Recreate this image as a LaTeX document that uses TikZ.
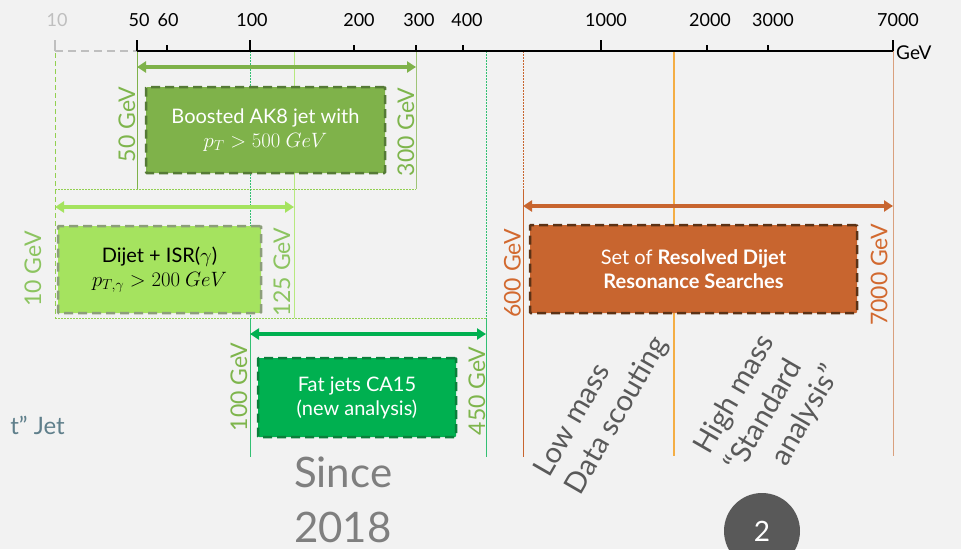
\documentclass[tikz,border=0pt]{standalone}
\usepackage{fontspec}
\setmainfont{Lato}
\usetikzlibrary{arrows.meta}

\definecolor{bg}{HTML}{F2F2F2}
\definecolor{boostG}{HTML}{7FB24A}
\definecolor{boostEdge}{HTML}{557A36}
\definecolor{dijG}{HTML}{A5E35F}
\definecolor{dijEdge}{HTML}{8C9E7A}
\definecolor{dijLine}{HTML}{92D050}
\definecolor{fatG}{HTML}{00B050}
\definecolor{fatEdge}{HTML}{0B7F3B}
\definecolor{orng}{HTML}{C8652F}
\definecolor{orngEdge}{HTML}{5B3216}
\definecolor{orngLab}{HTML}{D2692F}
\definecolor{yel}{HTML}{F4AE45}
\definecolor{salmon}{HTML}{D9A07E}
\definecolor{labG}{HTML}{7EB54C}
\definecolor{labLG}{HTML}{8CC460}
\definecolor{axisGray}{HTML}{BFBFBF}
\definecolor{noteGray}{HTML}{595959}
\definecolor{sinceGray}{HTML}{7F7F7F}
\definecolor{slate}{HTML}{5F7F8B}

\begin{document}
\begin{tikzpicture}[x=1pt,y=-1pt,
  ticklab/.style={font=\fontsize{18}{20}\selectfont, text=black},
  longtick/.style={line width=2.5pt},
  rng/.style={line width=3.5pt, {Triangle[length=9pt,width=11pt]}-{Triangle[length=9pt,width=11pt]}},
  rangebox/.style={draw, line width=2.5pt, dash pattern=on 9pt off 5pt, rounded corners=1pt,
    inner sep=0pt, align=center, font=\fontsize{20}{24}\selectfont},
  vlab/.style={rotate=90, font=\fontsize{23}{25}\selectfont},
  guide/.style={line width=0.9pt},
  dotguide/.style={line width=0.8pt, dash pattern=on 1.5pt off 1.5pt},
  slanted/.style={rotate=60, font=\fontsize{29}{36}\selectfont, text=noteGray, align=left}
]
\fill[bg] (0,0) rectangle (961,549);
\useasboundingbox (0,0) rectangle (961,549);

% ---------- axis points ----------
\coordinate (a10)   at (55,51);
\coordinate (a50)   at (137,51);
\coordinate (a60)   at (167,51);
\coordinate (a100)  at (250,51);
\coordinate (a125)  at (294,51);
\coordinate (a200)  at (354,51);
\coordinate (a300)  at (416,51);
\coordinate (a400)  at (463,51);
\coordinate (a450)  at (486,51);
\coordinate (a600)  at (523,51);
\coordinate (a1000) at (601,51);
\coordinate (a1500) at (674,51);
\coordinate (a2000) at (707,51);
\coordinate (a3000) at (768,51);
\coordinate (a7000) at (893,51);

% ---------- range guide lines ----------
% boosted AK8 range
\draw[guide, boostG] (a50) -- (137,189);
\draw[guide, boostG!75] (a300) -- (416,189);
\draw[dotguide, dijLine] (55,189) -- (416,189);
% dijet + ISR range
\draw[line width=0.8pt, dijLine, dash pattern=on 5pt off 3pt] (55,53) -- (55,318);
\draw[guide, dijG!80] (a125) -- (294,318);
\draw[dotguide, dijLine] (55,318) -- (486,318);
% fat jets range
\draw[dotguide, fatG!80] (a100) -- (250,318);
\draw[guide, fatG!80] (250,318) -- (250,457);
\draw[dotguide, fatG!80] (a450) -- (486,318);
\draw[guide, fatG!80] (486,318) -- (486,457);
% resolved dijet range
\draw[dotguide, orng] (a600) -- (523,189);
\draw[guide, orng] (523,189) -- (523,457);
\draw[line width=1.2pt, yel] (a1500) -- (674,456);
\draw[guide, salmon] (a7000) -- (893,456);

% ---------- axis ----------
\draw[axisGray, line width=2.5pt, dash pattern=on 8pt off 5pt] (a10) -- (a50);
\draw[axisGray, line width=2.5pt] (55,40) -- (a10);
\draw[line width=2.5pt] (a50) -- (a7000);
\foreach \p in {a50,a100,a1000,a7000}
  \draw[longtick] (\p) -- ++(0,-11);
\foreach \p in {a60,a200,a300,a400,a2000,a3000}
  \draw[longtick] (\p) -- ++(0,-6);

\node[ticklab, text=axisGray] (l10) at (57,20) {10};
\node[ticklab] (l50)   at (139,20) {50};
\node[ticklab] (l60)   at (168,20) {60};
\node[ticklab] (l100)  at (252,20) {100};
\node[ticklab] (l200)  at (359,20) {200};
\node[ticklab] (l300)  at (419,20) {300};
\node[ticklab] (l400)  at (467,20) {400};
\node[ticklab] (l1000) at (606,20) {1000};
\node[ticklab] (l2000) at (710,20) {2000};
\node[ticklab] (l3000) at (773,20) {3000};
\node[ticklab] (l7000) at (898,20) {7000};
\node[ticklab, font=\fontsize{19}{21}\selectfont, anchor=west, inner sep=1pt] (unit) at (895,53) {GeV};

% ---------- range arrows ----------
\coordinate (bL) at (137,67);  \coordinate (bR) at (416,67);
\coordinate (dL) at (55,207);  \coordinate (dR) at (294,207);
\coordinate (fL) at (250,334); \coordinate (fR) at (486,334);
\coordinate (rL) at (523,206); \coordinate (rR) at (893,206);
\draw[rng, boostG] (bL) -- (bR);
\draw[rng, dijG]   (dL) -- (dR);
\draw[rng, fatG]   (fL) -- (fR);
\draw[rng, orng]   (rL) -- (rR);

% ---------- analysis boxes ----------
\node[rangebox, fill=boostG, draw=boostEdge, text=white, minimum width=239pt, minimum height=86pt]
  (boost) at (265.5,130) {Boosted AK8 jet with\\$p_T > 500\ GeV$};
\node[rangebox, fill=dijG, draw=dijEdge, text=black, minimum width=203pt, minimum height=87pt]
  (dijet) at (159.5,269.5) {Dijet + ISR($\gamma$)\\$p_{T,\gamma} > 200\ GeV$};
\node[rangebox, fill=fatG, draw=fatEdge, text=white, minimum width=198pt, minimum height=79pt]
  (fat) at (357,397.5) {Fat jets CA15\\(new analysis)};
\node[rangebox, fill=orng, draw=orngEdge, text=white, minimum width=327pt, minimum height=88pt]
  (resolved) at (693.5,269) {Set of \textbf{Resolved Dijet}\\\textbf{Resonance Searches}};

% ---------- range limits ----------
\node[vlab, text=labG]   (v50)   at (127,124.5) {50 GeV};
\node[vlab, text=labG]   (v300)  at (406,132)   {300 GeV};
\node[vlab, text=labLG]  (v10)   at (33,269)    {10 GeV};
\node[vlab, text=labLG]  (v125)  at (282,272.5) {125 GeV};
\node[vlab, text=labG]   (v100)  at (239,387)   {100 GeV};
\node[vlab, text=labG]   (v450)  at (477,391)   {450 GeV};
\node[vlab, text=orngLab] (v600)  at (512.5,273.5) {600 GeV};
\node[vlab, text=orngLab] (v7000) at (879,275)   {7000 GeV};

% ---------- notes ----------
\node[slanted] (lowmass) at (602,407) {Low mass\\Data scouting};
\node[slanted] (highmass) at (768,410) {High mass\\“Standard\\\hspace*{28pt}analysis”};

\node[font=\fontsize{42}{44}\selectfont, text=sinceGray, anchor=base west, inner sep=0pt]
  (since) at (294,487) {Since};
\node[font=\fontsize{42}{44}\selectfont, text=sinceGray, anchor=base west, inner sep=0pt]
  (year) at (294,542) {2018};

\node[font=\fontsize{24}{26}\selectfont, text=slate, anchor=base east, inner sep=0pt]
  (jet) at (65,434) {t” Jet};

\node[circle, fill=noteGray, minimum size=76pt, inner sep=0pt, text=white,
  font=\fontsize{28}{30}\selectfont] (page) at (762,531) {2};
\end{tikzpicture}
\end{document}
